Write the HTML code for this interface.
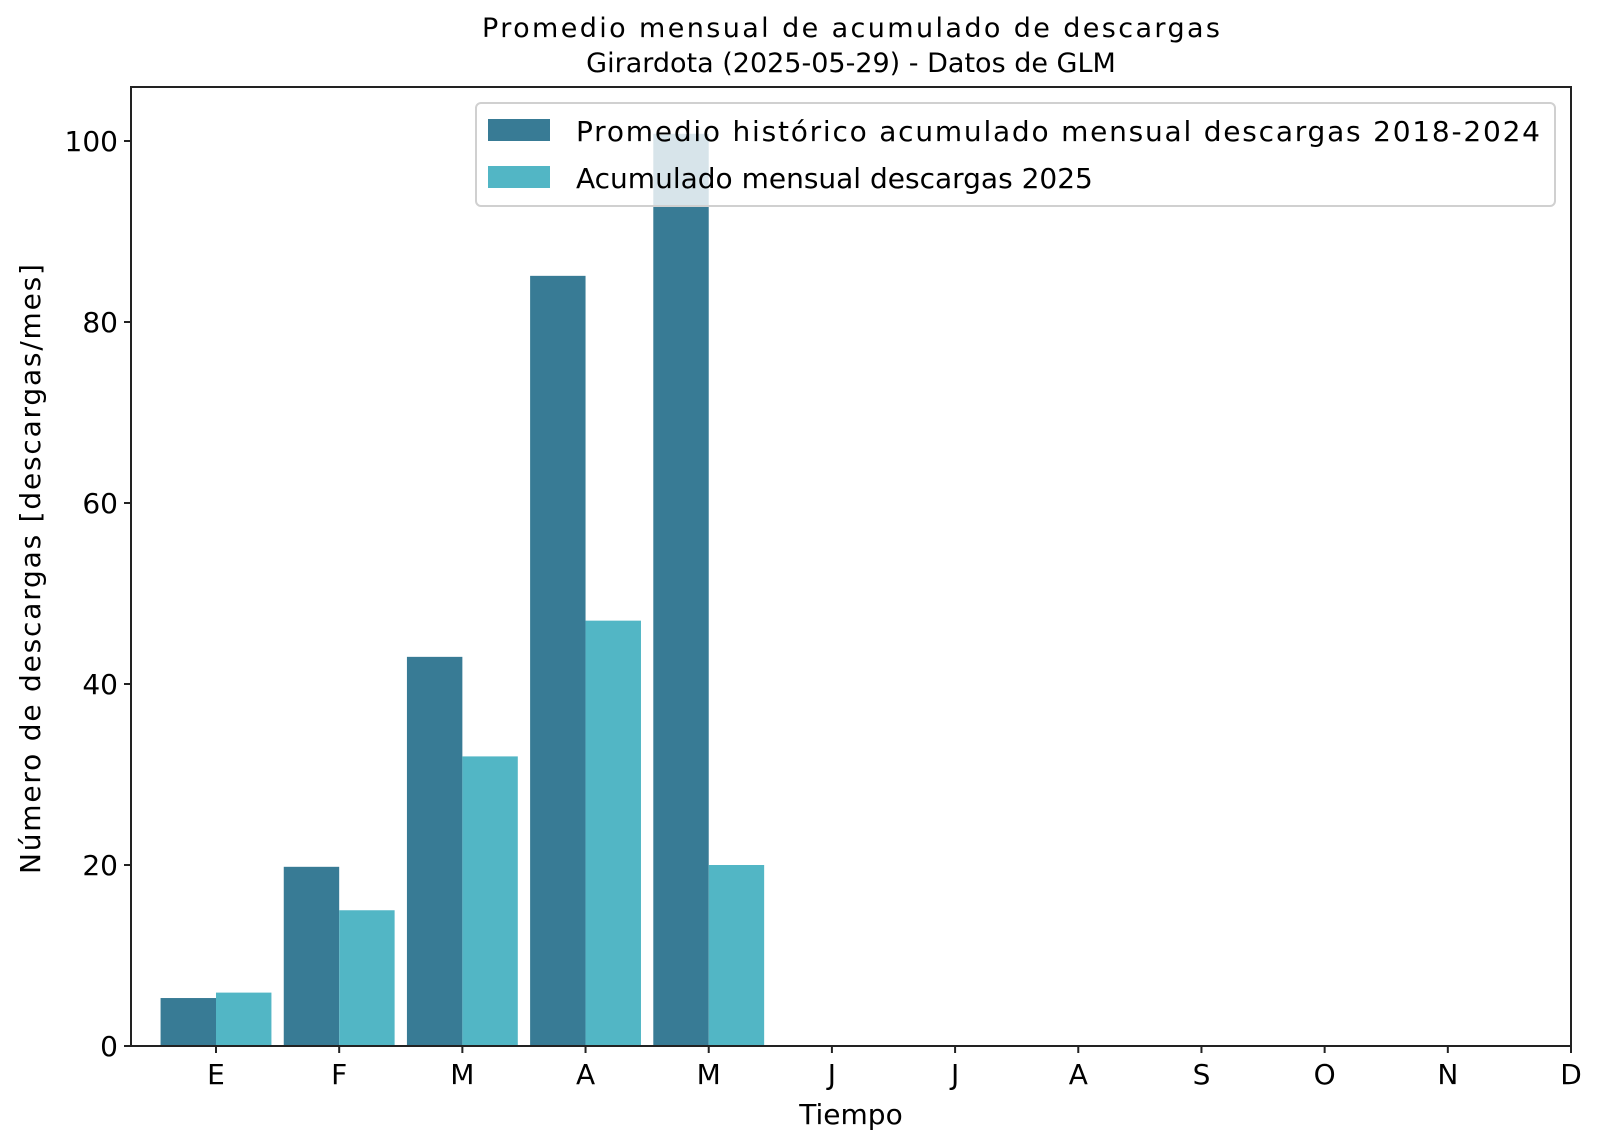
<!DOCTYPE html>
<html><head><meta charset="utf-8"><style>
html,body{margin:0;padding:0;background:#fff;}
svg{display:block;font-family:"DejaVu Sans","Liberation Sans",sans-serif;}
</style></head><body>
<svg id="chart" width="1597" height="1147" viewBox="0 0 1597 1147">
<rect x="0" y="0" width="1597" height="1147" fill="#fff"/>
<text x="851" y="37" font-size="27" text-anchor="middle" textLength="738">Promedio mensual de acumulado de descargas</text>
<text x="851" y="72" font-size="27" text-anchor="middle">Girardota (2025-05-29) - Datos de GLM</text>
<g id="bars"></g>
<g id="axes"></g>
<g>
<rect x="476" y="103" width="1079" height="103" rx="5" fill="#fff" fill-opacity="0.8" stroke="#d0d0d0" stroke-width="2"/>
<rect x="488" y="119" width="62" height="22" fill="#387b95"/>
<text x="576" y="141" font-size="28" textLength="964">Promedio histórico acumulado mensual descargas 2018-2024</text>
<rect x="488" y="166" width="62" height="22" fill="#52b6c5"/>
<text x="576" y="188" font-size="28">Acumulado mensual descargas 2025</text>
</g>
<text x="851" y="1124" font-size="28" text-anchor="middle">Tiempo</text>
<text transform="translate(40,569) rotate(-90)" font-size="28" text-anchor="middle" textLength="610">Número de descargas [descargas/mes]</text>
</svg>
<script>
const months = ["E","F","M","A","M","J","J","A","S","O","N","D"];
const historico = [5.3, 19.8, 43, 85.1, 100.8];
const actual = [5.9, 15, 32, 47, 20];
const yTicks = [0, 20, 40, 60, 80, 100];

const NS = "http://www.w3.org/2000/svg";
const L = 131, R = 1571, T = 87, B = 1046;
const x0 = 216, step = (R - x0) / 11;
const X = i => x0 + i * step;
const Y = v => B - v * 9.05;
const bw = step * 0.45;
function mk(tag, attrs, parent) {
  const e = document.createElementNS(NS, tag);
  for (const k in attrs) e.setAttribute(k, attrs[k]);
  parent.appendChild(e);
  return e;
}
const bars = document.getElementById("bars");
historico.forEach((v, i) => {
  const r = mk("rect", {x: X(i) - bw, y: Y(v), width: bw, height: B - Y(v), fill: "#387b95"}, bars);
  
  
});
actual.forEach((v, i) => {
  const r = mk("rect", {x: X(i), y: Y(v), width: bw, height: B - Y(v), fill: "#52b6c5"}, bars);
  
  
});
const axes = document.getElementById("axes");
const frame = mk("rect", {x: L, y: T, width: R - L, height: B - T, fill: "none", stroke: "#222", "stroke-width": 2}, axes);


yTicks.forEach(v => {
  mk("line", {x1: L - 7, x2: L, y1: Y(v), y2: Y(v), stroke: "#222", "stroke-width": 2}, axes);
  const t = mk("text", {x: L - 13, y: Y(v) + 10, "font-size": 28, "text-anchor": "end"}, axes);
  t.textContent = v;
  
  
});
months.forEach((m, i) => {
  mk("line", {x1: X(i), x2: X(i), y1: B, y2: B + 7, stroke: "#222", "stroke-width": 2}, axes);
  const t = mk("text", {x: X(i), y: B + 38, "font-size": 28, "text-anchor": "middle"}, axes);
  t.textContent = m;
  
  
});
</script>
</body></html>
